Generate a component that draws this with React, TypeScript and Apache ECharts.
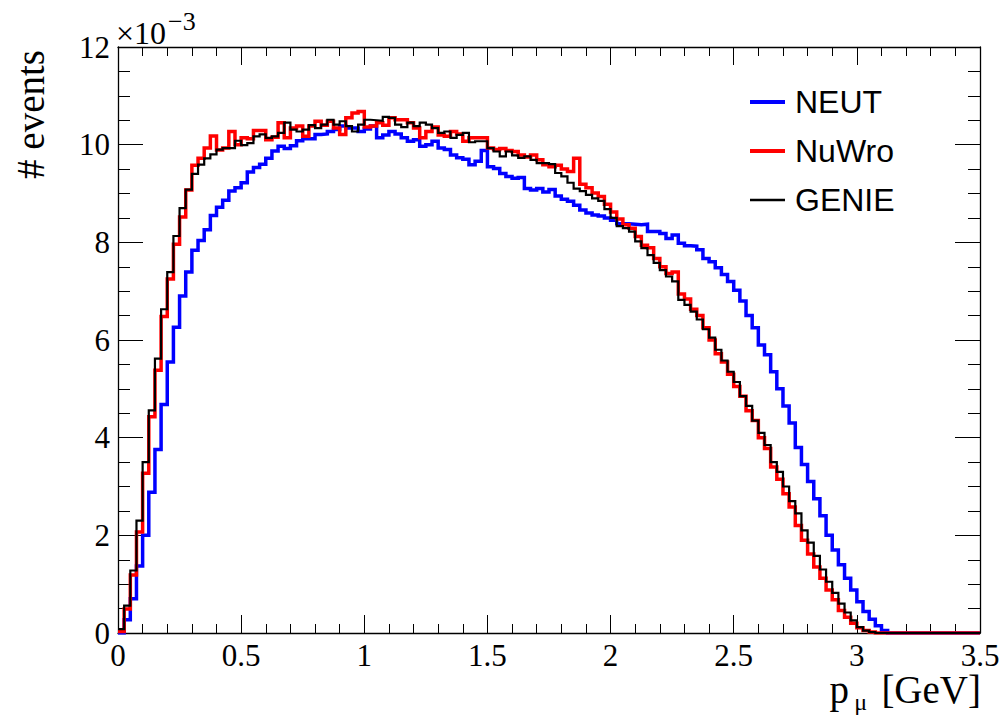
import React, { useEffect, useRef } from "react";
import * as echarts from "echarts";

// Histogram binning: 140 bins of 0.025 GeV from 0 to 3.5 GeV
const X_MIN = 0;
const X_MAX = 3.5;
const BIN_WIDTH = 0.025;

const xTickLabels = ["0", "0.5", "1", "1.5", "2", "2.5", "3", "3.5"];
const yTickLabels = ["0", "2", "4", "6", "8", "10", "12"];

// values in units of 1e-3
const neut = [
  0.0, 0.27, 0.7, 1.37, 2.0, 2.88, 3.76, 4.68, 5.55, 6.26,
  6.9, 7.39, 7.84, 8.04, 8.26, 8.55, 8.72, 8.86, 9.05, 9.12,
  9.22, 9.44, 9.53, 9.6, 9.72, 9.87, 9.97, 9.92, 9.98, 10.08,
  10.12, 10.12, 10.21, 10.22, 10.27, 10.31, 10.38, 10.34, 10.34, 10.27,
  10.32, 10.38, 10.14, 10.2, 10.27, 10.22, 10.14, 10.07, 10.1, 9.97,
  10.0, 10.07, 9.93, 9.9, 9.79, 9.73, 9.7, 9.59, 9.66, 9.88,
  9.55, 9.51, 9.41, 9.35, 9.31, 9.33, 9.1, 9.07, 9.1, 9.03,
  9.08, 8.95, 8.88, 8.84, 8.76, 8.66, 8.6, 8.56, 8.54, 8.5,
  8.45, 8.38, 8.38, 8.37, 8.36, 8.37, 8.22, 8.22, 8.18, 8.08,
  8.15, 7.98, 7.93, 7.92, 7.85, 7.67, 7.6, 7.48, 7.34, 7.2,
  7.02, 6.8, 6.5, 6.25, 5.9, 5.7, 5.35, 5.0, 4.65, 4.3,
  3.8, 3.45, 3.1, 2.75, 2.4, 2.0, 1.7, 1.4, 1.12, 0.88,
  0.64, 0.44, 0.28, 0.15, 0.05, 0, 0, 0, 0, 0,
  0, 0, 0, 0, 0, 0, 0, 0, 0, 0,
];

const nuwro = [
  0.03, 0.49, 1.19, 2.07, 3.27, 4.43, 5.38, 6.48, 7.25, 7.96,
  8.52, 9.07, 9.58, 9.72, 9.93, 10.18, 9.89, 9.93, 10.27, 10.0,
  10.14, 10.12, 10.29, 10.29, 10.1, 10.15, 10.45, 10.14, 10.34, 10.38,
  10.17, 10.38, 10.48, 10.4, 10.48, 10.34, 10.21, 10.55, 10.65, 10.68,
  10.36, 10.38, 10.45, 10.4, 10.55, 10.51, 10.51, 10.45, 10.34, 10.14,
  10.27, 10.36, 10.2, 10.17, 10.27, 10.22, 10.07, 10.14, 10.14, 10.14,
  9.93, 9.9, 9.92, 9.88, 9.86, 9.79, 9.75, 9.79, 9.69, 9.59,
  9.55, 9.58, 9.5, 9.45, 9.72, 9.19, 9.12, 9.01, 8.94, 8.78,
  8.62, 8.48, 8.36, 8.29, 8.12, 7.94, 7.89, 7.67, 7.5, 7.36,
  7.39, 6.94, 6.84, 6.63, 6.5, 6.25, 6.0, 5.72, 5.55, 5.3,
  5.05, 4.85, 4.55, 4.35, 4.0, 3.78, 3.4, 3.15, 2.85, 2.58,
  2.2, 1.9, 1.62, 1.35, 1.12, 0.88, 0.68, 0.46, 0.32, 0.2,
  0.11, 0.05, 0.02, 0, 0, 0, 0, 0, 0, 0,
  0, 0, 0, 0, 0, 0, 0, 0, 0, 0,
];

const genie = [
  0.08, 0.56, 1.28, 2.3, 3.5, 4.56, 5.62, 6.63, 7.39, 8.13,
  8.7, 9.08, 9.4, 9.59, 9.72, 9.8, 9.9, 9.93, 9.93, 10.08,
  9.99, 10.03, 10.17, 10.21, 10.14, 10.17, 10.24, 10.45, 10.31, 10.27,
  10.31, 10.4, 10.34, 10.41, 10.51, 10.41, 10.48, 10.38, 10.27, 10.41,
  10.51, 10.5, 10.49, 10.57, 10.55, 10.41, 10.36, 10.45, 10.38, 10.45,
  10.41, 10.34, 10.24, 10.27, 10.14, 10.2, 10.24, 10.05, 10.07, 10.07,
  9.93, 9.86, 9.76, 9.86, 9.78, 9.73, 9.76, 9.69, 9.62, 9.62,
  9.6, 9.42, 9.35, 9.22, 9.1, 9.05, 8.97, 8.9, 8.85, 8.68,
  8.5, 8.33, 8.29, 8.22, 8.02, 7.88, 7.74, 7.58, 7.43, 7.3,
  7.2, 6.82, 6.72, 6.58, 6.42, 6.22, 6.05, 5.8, 5.58, 5.35,
  5.14, 4.85, 4.65, 4.35, 4.1, 3.85, 3.5, 3.3, 3.0, 2.7,
  2.45, 2.1, 1.85, 1.58, 1.3, 1.05, 0.82, 0.6, 0.42, 0.26,
  0.12, 0.05, 0.02, 0, 0, 0, 0, 0, 0, 0,
  0, 0, 0, 0, 0, 0, 0, 0, 0, 0,
];

const SERIES = [
  { name: "NEUT", values: neut, color: "#0000ff", width: 3.5 },
  { name: "NuWro", values: nuwro, color: "#ff0000", width: 3.5 },
  { name: "GENIE", values: genie, color: "#000000", width: 2.2 },
];

function histPoints(values: number[]): number[][] {
  const pts: number[][] = [];
  for (let i = 0; i < values.length; i++) {
    pts.push([X_MIN + i * BIN_WIDTH, values[i]]);
  }
  pts.push([X_MAX, values[values.length - 1]]);
  return pts;
}

const SERIF = "'Liberation Serif', 'Times New Roman', serif";
const SANS = "'Liberation Sans', Arial, sans-serif";

export default function App() {
  const ref = useRef<HTMLDivElement>(null);

  useEffect(() => {
    if (!ref.current) return;
    const chart = echarts.init(ref.current, undefined, { renderer: "svg" });

    const axisLineStyle = { color: "#000", width: 1.3 };
    const xBase = {
      type: "value" as const,
      min: X_MIN,
      max: X_MAX,
      interval: 0.5,
      axisLine: { show: true, onZero: false, lineStyle: axisLineStyle },
      axisTick: { show: true, inside: true, length: 18, lineStyle: { color: "#000", width: 1 } },
      minorTick: { show: true, splitNumber: 5, length: 9, lineStyle: { color: "#000", width: 1 } },
      splitLine: { show: false },
      minorSplitLine: { show: false },
    };
    const yBase = {
      type: "value" as const,
      min: 0,
      max: 12,
      interval: 2,
      axisLine: { show: true, onZero: false, lineStyle: axisLineStyle },
      axisTick: { show: true, inside: true, length: 25, lineStyle: { color: "#000", width: 1 } },
      minorTick: { show: true, splitNumber: 4, length: 12, lineStyle: { color: "#000", width: 1 } },
      splitLine: { show: false },
      minorSplitLine: { show: false },
    };

    const legendTop = 102;
    const legendGap = 49;

    const graphics: any[] = [];
    SERIES.forEach((s, i) => {
      const y = legendTop + i * legendGap;
      graphics.push({
        type: "line",
        shape: { x1: 750, y1: y, x2: 785, y2: y },
        style: { stroke: s.color, lineWidth: s.width + 0.5 },
        silent: true,
      });
      graphics.push({
        type: "text",
        x: 795,
        y: y,
        style: {
          text: s.name,
          fill: "#000",
          font: `32px ${SANS}`,
          textAlign: "left",
          textVerticalAlign: "middle",
        },
        silent: true,
      });
    });

    // y-axis title
    graphics.push({
      type: "text",
      x: 30,
      y: 50,
      rotation: Math.PI / 2,
      style: {
        text: "# events",
        fill: "#000",
        font: `39px ${SERIF}`,
        textAlign: "right",
        textVerticalAlign: "middle",
      },
      silent: true,
    });
    // multiplier
    graphics.push({
      type: "text",
      x: 116,
      y: 33,
      style: { text: "×10", fill: "#000", font: `32px ${SERIF}`, textAlign: "left", textVerticalAlign: "middle" },
      silent: true,
    });
    graphics.push({
      type: "text",
      x: 168,
      y: 21,
      style: { text: "−3", fill: "#000", font: `26px ${SERIF}`, textAlign: "left", textVerticalAlign: "middle" },
      silent: true,
    });
    // x-axis title
    graphics.push({
      type: "text",
      x: 981,
      y: 689,
      style: { text: "[GeV]", fill: "#000", font: `39px ${SERIF}`, textAlign: "right", textVerticalAlign: "middle" },
      silent: true,
    });
    graphics.push({
      type: "text",
      x: 867,
      y: 702,
      style: { text: "μ", fill: "#000", font: `24px ${SERIF}`, textAlign: "right", textVerticalAlign: "middle" },
      silent: true,
    });
    graphics.push({
      type: "text",
      x: 849,
      y: 689,
      style: { text: "p", fill: "#000", font: `39px ${SERIF}`, textAlign: "right", textVerticalAlign: "middle" },
      silent: true,
    });

    chart.setOption({
      animation: false,
      backgroundColor: "#ffffff",
      grid: { left: 118, top: 47, right: 23, bottom: 83, containLabel: false },
      xAxis: [
        {
          ...xBase,
          position: "bottom",
          axisLabel: {
            show: true,
            color: "#000",
            fontFamily: SERIF,
            fontSize: 31,
            margin: 7,
            showMinLabel: true,
            showMaxLabel: true,
            formatter: (v: number) => {
              const idx = Math.round(v / 0.5);
              return xTickLabels[idx] ?? String(v);
            },
          },
        },
        { ...xBase, position: "top", axisLabel: { show: false } },
      ],
      yAxis: [
        {
          ...yBase,
          position: "left",
          axisLabel: {
            show: true,
            color: "#000",
            fontFamily: SERIF,
            fontSize: 31,
            margin: 8,
            showMinLabel: true,
            showMaxLabel: true,
            formatter: (v: number) => {
              const idx = Math.round(v / 2);
              return yTickLabels[idx] ?? String(v);
            },
          },
        },
        { ...yBase, position: "right", axisLabel: { show: false } },
      ],
      series: SERIES.map((s, i) => ({
        name: s.name,
        type: "line",
        step: "end",
        xAxisIndex: 0,
        yAxisIndex: 0,
        data: histPoints(s.values),
        symbol: "none",
        showSymbol: false,
        clip: true,
        z: 2 + i,
        lineStyle: { color: s.color, width: s.width, join: "miter" },
        itemStyle: { color: s.color },
      })),
      graphic: graphics,
    });

    return () => {
      chart.dispose();
    };
  }, []);

  return (
    <div
      ref={ref}
      style={{ position: "fixed", left: 0, top: 0, width: 1003, height: 716, background: "#fff" }}
    />
  );
}
